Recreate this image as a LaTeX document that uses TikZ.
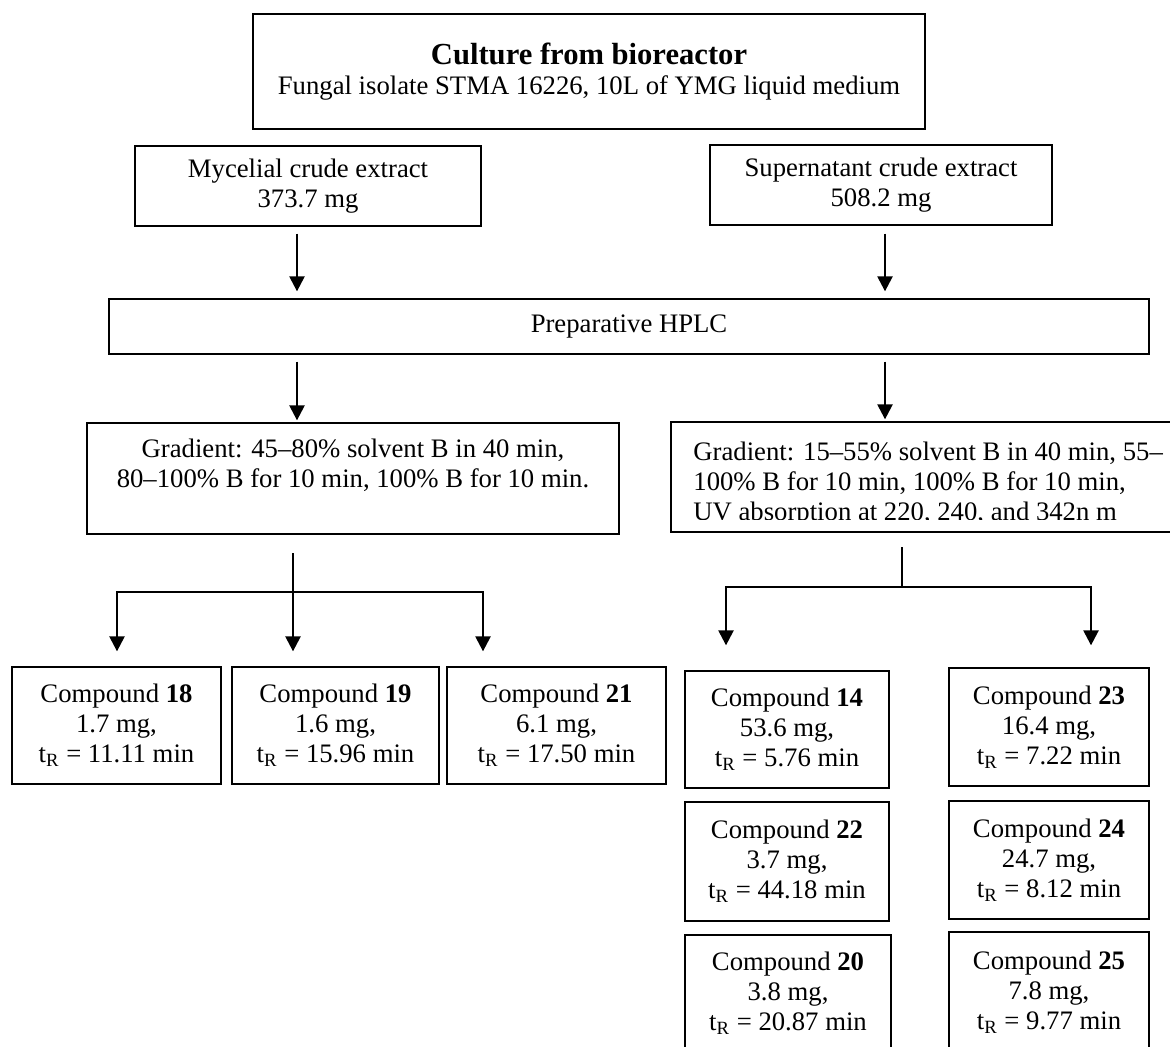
\documentclass[tikz,border=0pt]{standalone}
\usepackage{fontspec}
\setmainfont{Liberation Serif}
\usetikzlibrary{arrows.meta}
\tikzset{>/.tip={Triangle[width=7.5pt,length=7.5pt]},
  box/.style={draw, line width=0.65pt, align=center, inner sep=0pt},
  sz/.style 2 args={minimum width=#1*0.5pt, minimum height=#2*0.5pt},
  flow/.style={->, line width=1.2pt}}

\begin{document}
\begin{tikzpicture}[x=0.5pt, y=-0.5pt, font=\fontsize{13.35}{15}\selectfont]
\useasboundingbox (0,0) rectangle (1170,1047);
\clip (0,0) rectangle (1170,1047);

\node[box, sz={672}{115}] (top)  at (589,71.5) {{\fontsize{15.3}{17}\selectfont\bfseries Culture from bioreactor}\\Fungal isolate STMA 16226, 10L of YMG liquid medium};
\node[box, sz={346}{80}]  (myc)  at (308,186)   {Mycelial crude extract\\373.7 mg};
\node[box, sz={342}{80}]  (sup)  at (881,185)   {Supernatant crude extract\\508.2 mg};
\node[box, sz={1040}{55}] (hplc) at (629,326.5) {Preparative HPLC};
\node[box, sz={532}{111}] (gradL) at (353,478.5) {Gradient: 45–80\% solvent B in 40 min,\\80–100\% B for 10 min, 100\% B for 10 min.\\\mbox{}};
\node[box, sz={509}{110}] (gradR) at (925.5,477) {};
\begin{scope}
\clip (671,422) rectangle (1170,519);
\node[anchor=north west, inner sep=0pt, align=left] (gradRtxt) at (693,442) {Gradient: 15–55\% solvent B in 40 min, 55–\\100\% B for 10 min, 100\% B for 10 min,\\UV absorption at 220, 240, and 342n m};
\end{scope}

% mycelial fractions
\node[box, sz={209}{117}] (n18) at (116.5,725.5) {Compound \textbf{18}\\1.7 mg,\\t\textsubscript{R} = 11.11 min};
\node[box, sz={207}{117}] (n19) at (335.5,725.5) {Compound \textbf{19}\\1.6 mg,\\t\textsubscript{R} = 15.96 min};
\node[box, sz={219}{117}] (n21) at (556.5,725.5) {Compound \textbf{21}\\6.1 mg,\\t\textsubscript{R} = 17.50 min};

% supernatant fractions
\node[box, sz={204}{117}] (n14) at (787,729.5) {Compound \textbf{14}\\53.6 mg,\\t\textsubscript{R} = 5.76 min};
\node[box, sz={204}{119}] (n22) at (787,861.5) {Compound \textbf{22}\\3.7 mg,\\t\textsubscript{R} = 44.18 min};
\node[box, sz={206}{117}] (n20) at (788,993.5) {Compound \textbf{20}\\3.8 mg,\\t\textsubscript{R} = 20.87 min};
\node[box, sz={200}{118}] (n23) at (1049,727)   {Compound \textbf{23}\\16.4 mg,\\t\textsubscript{R} = 7.22 min};
\node[box, sz={200}{118}] (n24) at (1049,860)   {Compound \textbf{24}\\24.7 mg,\\t\textsubscript{R} = 8.12 min};
\node[box, sz={200}{120}] (n25) at (1049,992)   {Compound \textbf{25}\\7.8 mg,\\t\textsubscript{R} = 9.77 min};

\coordinate (xL) at (297,0);
\coordinate (xR) at (885,0);
\draw[flow, shorten <=3.5pt, shorten >=3.5pt] (myc.south -| xL) -- (hplc.north -| xL);
\draw[flow, shorten <=4pt, shorten >=3.5pt]   (sup.south -| xR) -- (hplc.north -| xR);
\draw[flow, shorten <=3.5pt, shorten >=1pt]   (hplc.south -| xL) -- (gradL.north -| xL);
\draw[flow, shorten <=3.5pt, shorten >=1pt]   (hplc.south -| xR) -- (gradR.north -| xR);

% left split
\coordinate (stemL)  at (293,553);
\coordinate (forkL)  at (293,592);
\coordinate (forkLa) at (117,592);
\coordinate (forkLb) at (483,592);
\draw[line width=0.65pt] (stemL) -- (forkL);
\draw[flow, shorten >=7.5pt] (forkL) -| (forkLa |- n18.north);
\draw[flow, shorten >=7.5pt] (forkL) -- (forkL |- n19.north);
\draw[flow, shorten >=7.5pt] (forkL) -| (forkLb |- n21.north);

% right split
\coordinate (stemR)  at (902,547);
\coordinate (forkR)  at (902,587);
\coordinate (forkRa) at (726,587);
\coordinate (forkRb) at (1091,587);
\draw[line width=0.65pt] (stemR) -- (forkR);
\draw[flow, shorten >=12.5pt] (forkR) -| (forkRa |- n14.north);
\draw[flow, shorten >=11pt]   (forkR) -| (forkRb |- n23.north);
\end{tikzpicture}
\end{document}
